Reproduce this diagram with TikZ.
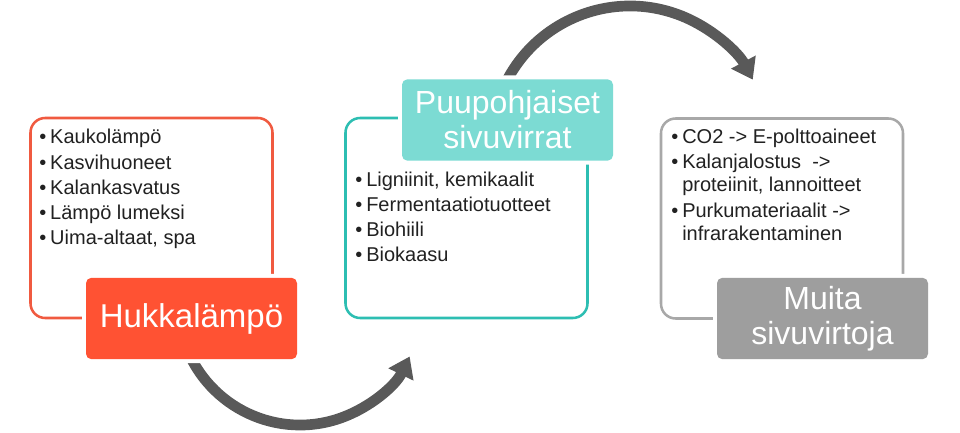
\documentclass[tikz,border=0pt]{standalone}
\usepackage{fontspec}
\setmainfont{Liberation Sans}
\usetikzlibrary{arrows.meta}
\definecolor{orangeL}{RGB}{255,82,51}
\definecolor{orangeO}{RGB}{240,90,64}
\definecolor{tealL}{RGB}{124,219,211}
\definecolor{tealO}{RGB}{45,190,178}
\definecolor{greyL}{RGB}{158,158,158}
\definecolor{greyO}{RGB}{168,168,168}
\definecolor{arrowC}{RGB}{89,89,89}
\definecolor{txt}{RGB}{33,33,33}
\newcommand\bul{\makebox[8.25pt][l]{•}}
\begin{document}
\begin{tikzpicture}[x=0.75pt,y=0.75pt,
  outline/.style={draw, line width=1.9pt, rounded corners=11pt, minimum width=181.5pt, minimum height=150pt, inner sep=0pt},
  lab/.style={text=white, rounded corners=4pt, inner sep=0pt, align=center, minimum width=158.25pt, minimum height=61pt, preaction={draw=white, line width=6pt}},
  blist/.style={inner sep=0pt, align=left, text=txt, anchor=base west, font=\fontsize{15}{18.94}\selectfont},
  bigarrow/.style={draw=arrowC, line width=8pt, -{Triangle[width=20pt,length=15pt]}}
]
\useasboundingbox (0,0) rectangle (960,432);
% outline boxes
\node[outline, draw=orangeO] (box1) at (151.5,214) {};
\node[outline, draw=tealO] (box2) at (466.5,214) {};
\node[outline, draw=greyO] (box3) at (782,213.5) {};
% arrows
\coordinate (ca) at (300,129);
\coordinate (cb) at (630,287);
\draw[bigarrow] ([shift={(200:122)}]ca) arc[start angle=200, end angle=334, radius=91.5pt];
\draw[bigarrow] ([shift={(155:139)}]cb) arc[start angle=155, end angle=28, radius=104.25pt];
% labels
\node[lab, fill=orangeL, font=\fontsize{24.75}{26.25}\selectfont] (hukka) at (191.5,113.5) {Hukkalämpö};
\node[lab, fill=tealL, font=\fontsize{24}{26.25}\selectfont] (puu) at (507.5,312) {Puupohjaiset\\sivuvirrat};
\node[lab, fill=greyL, font=\fontsize{24}{26.25}\selectfont] (muita) at (822.5,113.5) {Muita\\sivuvirtoja};
% bullet texts (anchor = baseline of last line)
\node[blist] (t1) at (39,187) {\bul Kaukolämpö\\ \bul Kasvihuoneet\\ \bul Kalankasvatus\\ \bul Lämpö lumeksi\\ \bul Uima-altaat, spa};
\node[blist] (t2) at (355,170) {\bul Ligniinit, kemikaalit\\ \bul Fermentaatiotuotteet\\ \bul Biohiili\\ \bul Biokaasu};
\node[blist, font=\fontsize{15}{17.25}\selectfont] (t3) at (671,191.5) {\bul CO2 -> E-polttoaineet\\[1.9pt] \bul Kalanjalostus~~->\\ \hspace*{8.25pt}proteiinit, lannoitteet\\[1.9pt] \bul Purkumateriaalit ->\\ \hspace*{8.25pt}infrarakentaminen};
\end{tikzpicture}
\end{document}
